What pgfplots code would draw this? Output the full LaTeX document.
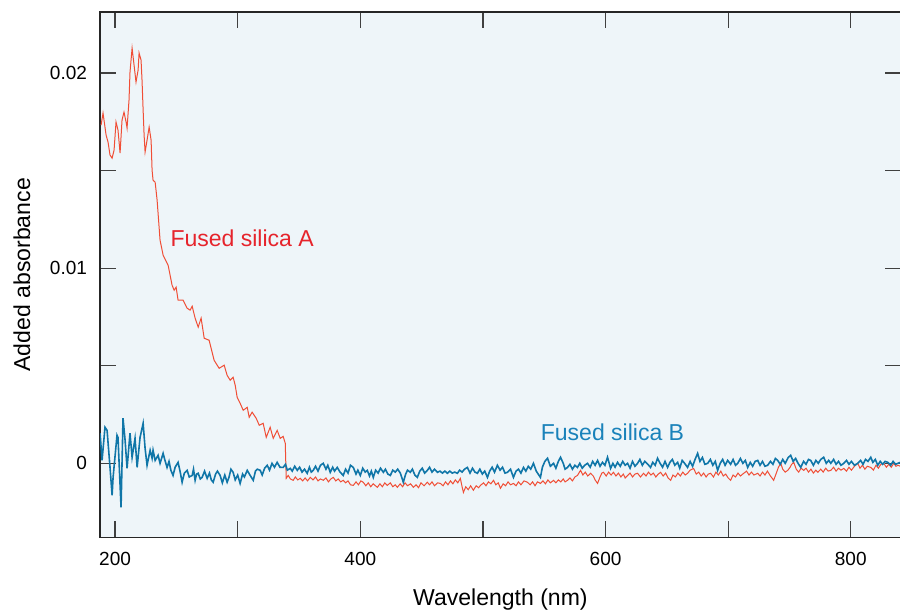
\documentclass[border=0pt]{standalone}
\usepackage{fontspec}
\setmainfont{Liberation Sans}
\usepackage{pgfplots}
\pgfplotsset{compat=1.18}
\definecolor{bgblue}{RGB}{238,245,249}
\definecolor{lineA}{RGB}{240,78,54}
\definecolor{textA}{RGB}{230,36,44}
\definecolor{lineB}{RGB}{16,118,168}
\definecolor{textB}{RGB}{26,130,186}

\pgfplotstableread{
x y
188.6 0.01733
190.2 0.01795
192.7 0.01682
194.3 0.01646
195.9 0.01580
197.6 0.01564
199.2 0.01605
200.8 0.01749
202.4 0.01708
204.1 0.01590
205.7 0.01759
207.3 0.01800
209.0 0.01749
209.8 0.01718
211.4 0.01862
212.2 0.02005
213.9 0.02128
215.5 0.02041
217.1 0.01954
218.8 0.02015
219.6 0.02103
221.2 0.02067
222.0 0.01964
222.9 0.01810
223.7 0.01682
224.5 0.01595
226.1 0.01656
227.8 0.01723
229.4 0.01656
230.2 0.01503
231.0 0.01451
232.7 0.01441
234.3 0.01349
236.7 0.01144
239.2 0.01067
243.3 0.01015
246.5 0.00913
248.2 0.00887
249.8 0.00903
251.4 0.00836
255.5 0.00836
258.8 0.00795
261.2 0.00785
262.9 0.00805
265.3 0.00744
267.8 0.00698
270.2 0.00744
272.7 0.00641
276.7 0.00631
280.8 0.00528
284.9 0.00487
289.0 0.00503
291.4 0.00451
293.9 0.00426
296.3 0.00441
298.0 0.00400
299.6 0.00338
302.0 0.00308
304.5 0.00272
307.8 0.00287
309.4 0.00236
311.8 0.00262
315.1 0.00231
317.6 0.00195
320.8 0.00205
323.3 0.00133
326.5 0.00185
329.0 0.00128
332.2 0.00169
334.7 0.00128
337.1 0.00138
338.8 0.00103
339.6 -0.00077
341.2 -0.00062
343.0 -0.00080
345.3 -0.00087
347.0 -0.00070
349.0 -0.00085
351.0 -0.00077
353.0 -0.00090
355.0 -0.00075
357.0 -0.00090
359.2 -0.00072
361.5 -0.00085
363.5 -0.00070
365.5 -0.00090
367.5 -0.00080
369.8 -0.00087
372.0 -0.00075
374.0 -0.00095
376.0 -0.00080
378.0 -0.00072
380.0 -0.00090
382.0 -0.00080
384.0 -0.00095
386.1 -0.00087
388.0 -0.00100
390.0 -0.00090
392.0 -0.00110
394.3 -0.00113
396.5 -0.00095
398.5 -0.00110
400.5 -0.00090
402.4 -0.00097
404.5 -0.00115
406.5 -0.00100
408.5 -0.00120
410.5 -0.00105
413.9 -0.00123
416.0 -0.00105
418.0 -0.00120
420.0 -0.00100
422.0 -0.00113
424.5 -0.00100
426.5 -0.00120
428.5 -0.00110
430.2 -0.00123
432.5 -0.00105
434.5 -0.00120
436.5 -0.00100
438.5 -0.00115
441.0 -0.00105
443.3 -0.00123
445.5 -0.00110
447.5 -0.00125
449.5 -0.00100
452.0 -0.00115
454.7 -0.00097
456.5 -0.00110
458.5 -0.00095
460.5 -0.00115
463.0 -0.00100
465.3 -0.00103
467.5 -0.00115
469.5 -0.00095
471.5 -0.00110
473.5 -0.00090
475.5 -0.00105
477.5 -0.00085
479.5 -0.00100
481.6 -0.00077
483.0 -0.00120
484.1 -0.00149
486.0 -0.00120
488.0 -0.00135
490.0 -0.00115
492.2 -0.00138
494.5 -0.00115
496.5 -0.00125
498.0 -0.00113
500.5 -0.00100
502.5 -0.00115
504.5 -0.00095
506.5 -0.00105
508.6 -0.00087
510.5 -0.00110
512.5 -0.00100
514.3 -0.00128
516.5 -0.00105
518.5 -0.00115
520.5 -0.00095
522.5 -0.00110
524.9 -0.00103
527.0 -0.00115
529.0 -0.00095
531.0 -0.00110
533.5 -0.00090
536.3 -0.00097
538.5 -0.00110
540.5 -0.00095
542.5 -0.00115
544.5 -0.00095
546.9 -0.00103
549.0 -0.00090
551.0 -0.00105
553.0 -0.00085
555.0 -0.00100
557.6 -0.00087
559.5 -0.00100
561.5 -0.00085
563.5 -0.00095
565.5 -0.00080
567.0 -0.00095
569.0 -0.00087
571.0 -0.00075
573.0 -0.00090
575.0 -0.00070
577.1 -0.00062
579.6 -0.00036
581.5 -0.00060
583.5 -0.00045
585.5 -0.00065
587.8 -0.00051
590.0 -0.00065
591.5 -0.00085
593.5 -0.00103
595.5 -0.00070
597.0 -0.00050
598.4 -0.00046
600.5 -0.00065
602.5 -0.00045
604.5 -0.00060
606.5 -0.00046
608.5 -0.00065
610.5 -0.00050
612.5 -0.00070
614.5 -0.00055
616.0 -0.00075
618.0 -0.00062
620.0 -0.00050
622.0 -0.00070
624.0 -0.00055
626.1 -0.00051
628.5 -0.00070
631.0 -0.00051
633.0 -0.00065
635.0 -0.00045
637.0 -0.00060
639.0 -0.00050
641.0 -0.00070
643.0 -0.00055
644.9 -0.00046
647.0 -0.00065
649.0 -0.00050
651.0 -0.00075
653.1 -0.00087
655.0 -0.00060
657.0 -0.00070
659.0 -0.00050
661.0 -0.00065
663.0 -0.00045
665.0 -0.00060
666.9 -0.00051
669.0 -0.00035
671.8 -0.00026
674.0 -0.00055
676.0 -0.00045
678.0 -0.00065
680.0 -0.00050
682.0 -0.00070
683.8 -0.00055
685.7 -0.00051
688.0 -0.00070
690.0 -0.00045
692.0 -0.00060
694.0 -0.00040
696.0 -0.00065
698.0 -0.00055
700.0 -0.00075
702.0 -0.00087
704.0 -0.00060
706.0 -0.00070
708.0 -0.00050
710.0 -0.00065
712.7 -0.00051
715.0 -0.00040
717.0 -0.00060
719.0 -0.00045
721.0 -0.00060
724.1 -0.00051
726.0 -0.00065
728.0 -0.00045
730.0 -0.00060
732.0 -0.00040
734.5 -0.00065
737.1 -0.00087
739.0 -0.00055
741.0 -0.00020
742.9 0.00000
744.5 -0.00030
746.5 -0.00045
748.6 -0.00036
750.5 -0.00020
751.8 -0.00005
753.5 0.00005
755.5 -0.00030
757.5 -0.00045
759.5 -0.00025
761.6 -0.00036
763.5 -0.00025
765.5 -0.00045
767.5 -0.00030
769.5 -0.00050
771.5 -0.00035
773.1 -0.00046
775.5 -0.00030
777.5 -0.00045
779.5 -0.00025
781.5 -0.00040
783.7 -0.00036
786.0 -0.00020
788.0 -0.00040
790.0 -0.00025
792.0 -0.00035
794.3 -0.00026
796.5 -0.00040
798.5 -0.00020
800.5 -0.00035
803.0 -0.00015
805.7 0.00000
807.5 -0.00025
809.5 -0.00010
811.5 -0.00030
813.5 -0.00015
816.3 -0.00021
818.5 -0.00035
820.5 -0.00010
822.5 -0.00025
824.5 -0.00005
826.9 0.00000
829.0 -0.00020
831.0 -0.00005
833.0 -0.00020
835.1 0.00000
836.8 -0.00015
838.4 -0.00010
840.5 -0.00015
}\silicaA

\pgfplotstableread{
x y
187.8 0.00154
189.4 0.00015
191.8 0.00185
193.5 0.00169
195.9 -0.00021
197.6 -0.00164
198.4 -0.00072
201.6 0.00144
202.4 0.00133
204.9 -0.00226
206.5 0.00231
208.2 0.00118
209.8 -0.00026
212.2 0.00154
213.9 0.00031
216.3 0.00128
218.0 -0.00021
220.4 0.00133
222.9 0.00205
224.5 0.00077
226.1 -0.00010
228.6 0.00067
230.2 0.00026
231.0 0.00067
232.7 0.00015
235.1 0.00041
236.7 0.00000
239.2 0.00051
240.5 0.00020
242.4 -0.00021
244.0 0.00010
245.5 -0.00035
247.3 -0.00062
249.0 -0.00020
251.4 0.00005
253.0 -0.00040
254.7 -0.00097
256.5 -0.00050
258.8 -0.00036
260.5 -0.00070
262.9 -0.00062
264.0 -0.00030
265.3 -0.00087
266.5 -0.00055
267.8 -0.00051
269.5 -0.00080
271.0 -0.00072
273.0 -0.00040
275.1 -0.00077
277.0 -0.00050
278.5 -0.00085
280.0 -0.00097
282.0 -0.00055
283.5 -0.00040
285.7 -0.00062
287.5 -0.00100
289.5 -0.00060
291.4 -0.00097
293.0 -0.00070
294.5 -0.00030
296.3 -0.00046
298.0 -0.00085
300.0 -0.00060
302.0 -0.00103
304.0 -0.00055
305.5 -0.00070
307.8 -0.00036
310.0 -0.00060
312.7 -0.00087
314.5 -0.00040
316.0 -0.00030
318.4 -0.00036
320.0 -0.00060
322.0 -0.00025
324.1 -0.00010
326.0 -0.00035
328.0 0.00000
330.0 -0.00020
332.2 0.00005
334.5 -0.00020
337.1 -0.00021
339.0 -0.00005
340.5 -0.00035
342.9 -0.00026
344.5 -0.00040
346.5 -0.00015
348.6 -0.00036
350.5 -0.00020
352.5 -0.00045
354.5 -0.00030
356.7 -0.00051
358.5 -0.00020
360.0 -0.00045
361.6 -0.00036
363.5 -0.00015
365.5 -0.00040
367.5 -0.00010
369.8 0.00000
372.0 -0.00030
373.5 -0.00010
375.5 -0.00046
377.5 -0.00020
379.0 -0.00040
381.2 -0.00021
383.5 -0.00045
386.1 -0.00062
388.0 -0.00030
390.0 -0.00050
392.0 -0.00010
394.3 -0.00021
396.5 -0.00055
398.0 -0.00035
400.0 -0.00062
402.0 -0.00025
404.0 -0.00045
405.7 -0.00036
407.5 -0.00065
409.0 -0.00040
410.6 -0.00072
412.5 -0.00035
414.5 -0.00050
416.5 -0.00025
418.8 -0.00046
420.5 -0.00030
422.5 -0.00055
424.5 -0.00062
426.5 -0.00035
428.5 -0.00045
430.5 -0.00030
432.7 -0.00051
435.1 -0.00097
437.0 -0.00055
438.5 -0.00035
440.8 -0.00046
442.5 -0.00030
444.5 -0.00060
446.5 -0.00072
448.5 -0.00040
450.5 -0.00025
452.5 -0.00050
454.7 -0.00036
456.5 -0.00020
458.5 -0.00045
460.5 -0.00030
462.9 -0.00046
465.0 -0.00040
467.0 -0.00050
469.0 -0.00040
471.0 -0.00051
473.0 -0.00040
475.0 -0.00050
477.0 -0.00045
479.2 -0.00051
481.0 -0.00035
483.0 -0.00045
485.0 -0.00030
487.3 -0.00021
489.5 -0.00050
491.5 -0.00025
493.5 -0.00045
495.5 -0.00051
497.5 -0.00030
499.5 -0.00055
501.5 -0.00040
503.7 -0.00072
505.5 -0.00040
507.5 -0.00020
509.5 -0.00045
511.8 -0.00010
514.0 -0.00035
516.0 -0.00020
518.0 -0.00050
520.0 -0.00046
522.5 -0.00030
524.9 -0.00072
527.0 -0.00040
529.0 -0.00030
531.0 -0.00050
533.1 -0.00021
535.0 -0.00040
537.0 -0.00015
539.0 -0.00030
541.2 0.00000
543.5 -0.00040
546.9 -0.00072
548.5 -0.00020
550.5 0.00010
552.7 0.00026
555.0 -0.00015
557.6 0.00000
559.5 -0.00025
561.5 0.00010
563.3 0.00031
565.5 0.00000
567.0 -0.00030
569.0 -0.00021
571.0 -0.00005
573.0 -0.00030
575.0 -0.00010
577.1 -0.00021
579.0 0.00000
581.0 -0.00025
583.0 -0.00010
585.3 0.00000
587.5 -0.00020
589.5 0.00010
591.5 -0.00010
593.5 0.00015
595.5 -0.00015
597.5 0.00005
599.5 -0.00010
601.6 0.00031
603.0 0.00000
604.1 -0.00026
606.0 0.00000
607.8 -0.00020
609.8 0.00005
612.0 -0.00015
614.0 0.00010
616.0 -0.00010
618.0 0.00000
620.0 -0.00025
622.0 0.00010
624.0 -0.00015
626.1 0.00000
628.0 0.00020
630.0 -0.00010
632.0 0.00010
634.5 -0.00005
636.7 -0.00021
638.5 0.00005
640.5 -0.00010
642.4 0.00026
644.5 0.00000
646.5 -0.00020
648.5 0.00010
650.6 -0.00021
652.5 0.00005
654.5 0.00020
656.5 -0.00010
658.8 0.00005
660.5 -0.00025
662.5 0.00015
664.5 0.00000
666.9 -0.00021
669.0 0.00010
671.0 -0.00015
673.0 0.00020
675.1 0.00051
677.0 0.00010
679.0 0.00030
681.0 -0.00005
683.3 0.00000
685.5 0.00020
687.5 -0.00010
689.5 0.00010
691.4 -0.00036
693.5 0.00000
695.5 0.00020
697.5 -0.00010
699.6 0.00015
702.0 -0.00005
704.0 0.00020
706.0 -0.00010
707.8 0.00000
710.0 0.00025
712.0 0.00000
714.0 0.00015
715.9 -0.00021
718.0 0.00005
720.0 -0.00015
722.0 0.00010
724.1 0.00015
726.0 -0.00010
728.0 0.00010
730.0 -0.00015
732.2 -0.00010
734.5 0.00010
736.5 -0.00005
738.5 0.00025
740.4 0.00015
742.5 -0.00005
744.5 0.00020
746.5 0.00000
749.0 0.00030
751.0 0.00041
753.0 0.00010
755.0 0.00025
757.0 0.00000
759.2 -0.00021
761.5 0.00010
763.5 -0.00005
765.5 0.00020
767.3 0.00015
769.5 -0.00010
771.5 0.00015
773.5 0.00000
775.5 0.00020
777.9 0.00031
780.0 0.00000
782.0 0.00015
783.7 0.00000
786.0 0.00020
788.0 -0.00005
790.0 0.00010
792.0 -0.00010
794.3 0.00000
796.5 0.00015
798.5 -0.00005
800.5 0.00010
803.0 -0.00010
805.7 0.00000
808.0 0.00015
810.0 -0.00005
812.0 0.00020
814.0 0.00010
816.3 0.00031
818.0 0.00005
820.0 0.00020
822.0 -0.00010
824.0 0.00010
826.0 -0.00005
828.0 0.00010
830.2 0.00005
832.5 -0.00010
834.5 0.00010
836.5 -0.00005
838.4 0.00000
840.5 0.00005
}\silicaB

\begin{document}
\begin{tikzpicture}
% page ends just inside the right spine, as in the cropped original
\useasboundingbox (-50pt,-36pt) rectangle (399.6pt,268.5pt);
\begin{axis}[
  at={(0,0)}, anchor=south west,
  scale only axis,
  width=400pt, height=262.5pt,
  xmin=187.8, xmax=840.8,
  ymin=-0.0038, ymax=0.02313,
  xtick={200,400,600,800},
  minor xtick={300,500,700},
  ytick={0,0.01,0.02},
  yticklabels={0,0.01,0.02},
  minor ytick={0.005,0.015},
  tick pos=both,
  tick align=inside,
  major tick length=8pt,
  minor tick length=8pt,
  tick style={draw=black!75, line width=0.6pt},
  axis line style={draw=black!85, line width=0.8pt},
  axis background/.style={fill=bgblue},
  /pgf/number format/assume math mode=true,
  ticklabel style={font=\fontsize{9.5}{11}\selectfont},
  xticklabel style={anchor=base, yshift=-14pt},
  yticklabel style={anchor=east, xshift=-3pt},
  label style={font=\fontsize{11.5}{13}\selectfont},
  xlabel={Wavelength (nm)},
  xlabel style={at={(axis description cs:0.5,-0.1295)}, anchor=base},
  ylabel={Added absorbance},
  ylabel style={at={(axis description cs:-0.0875,0.5)}, rotate=0, anchor=base},
  clip=true,
]
\addplot[lineA, line width=0.5pt] table {\silicaA};
\addplot[lineB, line width=0.8pt] table {\silicaB};
\node[anchor=west, text=textA, font=\fontsize{11.5}{13}\selectfont, inner sep=0pt]
  at (axis cs:244.9,0.01154) {Fused silica A};
\node[anchor=west, text=textB, font=\fontsize{11.5}{13}\selectfont, inner sep=0pt]
  at (axis cs:546.9,0.00159) {Fused silica B};
\end{axis}
\end{tikzpicture}
\end{document}
